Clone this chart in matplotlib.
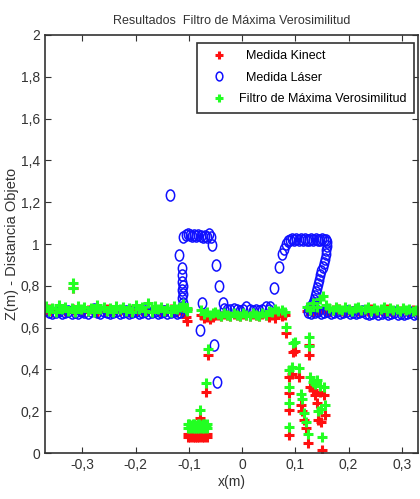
import numpy as np
import matplotlib
matplotlib.use('Agg')
import matplotlib.pyplot as plt
from matplotlib.path import Path
from matplotlib.transforms import Affine2D

plt.rcParams['font.family'] = ['Liberation Sans Narrow', 'Liberation Sans', 'DejaVu Sans']

# ---- Kinect / filter samples (same x, two z values) ----
# left floor
floorL_x = [-0.368, -0.362, -0.356, -0.350, -0.344, -0.338, -0.332, -0.326, -0.320, -0.314,
            -0.308, -0.302, -0.296, -0.290, -0.284, -0.278, -0.272, -0.266, -0.260, -0.254,
            -0.248, -0.242, -0.236, -0.230, -0.224, -0.218, -0.212, -0.206, -0.200, -0.194,
            -0.188, -0.182, -0.176, -0.170, -0.164, -0.158, -0.152, -0.146, -0.140, -0.134,
            -0.128, -0.122, -0.116, -0.110, -0.104, -0.318, -0.317]
floorL_kin = [0.68, 0.69, 0.675, 0.685, 0.68, 0.69, 0.68, 0.675, 0.685, 0.68,
              0.69, 0.68, 0.675, 0.685, 0.69, 0.68, 0.675, 0.685, 0.68, 0.69,
              0.68, 0.675, 0.685, 0.68, 0.69, 0.68, 0.675, 0.685, 0.68, 0.69,
              0.68, 0.675, 0.685, 0.68, 0.69, 0.68, 0.675, 0.685, 0.68, 0.69,
              0.68, 0.675, 0.685, 0.68, 0.69, 0.79, 0.69]
floorL_fil = [0.705, 0.68, 0.695, 0.675, 0.71, 0.69, 0.70, 0.68, 0.695, 0.675,
              0.705, 0.69, 0.70, 0.68, 0.695, 0.675, 0.71, 0.69, 0.70, 0.68,
              0.695, 0.675, 0.705, 0.69, 0.70, 0.68, 0.695, 0.675, 0.71, 0.69,
              0.70, 0.68, 0.72, 0.675, 0.705, 0.69, 0.70, 0.68, 0.695, 0.675,
              0.705, 0.69, 0.70, 0.715, 0.695, 0.815, 0.79]

# block at the bottom near x=-0.1
block_x = [-0.102, -0.099, -0.096, -0.093, -0.090, -0.087, -0.084, -0.081, -0.078, -0.075, -0.072, -0.069, -0.066,
           -0.101, -0.098, -0.095, -0.092, -0.089, -0.086, -0.083, -0.080, -0.077, -0.074, -0.071, -0.068, -0.065]
block_kin = [0.075, 0.09, 0.08, 0.075, 0.09, 0.08, 0.075, 0.09, 0.08, 0.075, 0.09, 0.08, 0.075,
             0.09, 0.075, 0.085, 0.09, 0.075, 0.085, 0.09, 0.075, 0.085, 0.09, 0.075, 0.085, 0.09]
block_fil = [0.12, 0.14, 0.13, 0.12, 0.14, 0.13, 0.12, 0.14, 0.13, 0.12, 0.14, 0.13, 0.12,
             0.14, 0.12, 0.135, 0.14, 0.12, 0.135, 0.14, 0.12, 0.135, 0.14, 0.12, 0.135, 0.14]

# scattered points left of the middle floor
gapL_x = [-0.105, -0.103, -0.079, -0.068, -0.064, -0.078, -0.072, -0.066, -0.060, -0.055, -0.050]
gapL_kin = [0.65, 0.63, 0.17, 0.29, 0.47, 0.66, 0.645, 0.65, 0.64, 0.65, 0.66]
gapL_fil = [0.69, 0.68, 0.205, 0.335, 0.50, 0.685, 0.665, 0.675, 0.66, 0.67, 0.675]

# middle floor
floorM_x = [-0.046, -0.040, -0.034, -0.028, -0.022, -0.016, -0.010, -0.004, 0.002, 0.008,
            0.014, 0.020, 0.026, 0.032, 0.038, 0.044, 0.050, 0.056, 0.062, 0.068, 0.074, 0.080]
floorM_kin = [0.66, 0.655, 0.665, 0.66, 0.655, 0.665, 0.66, 0.655, 0.665, 0.66,
              0.655, 0.665, 0.66, 0.655, 0.665, 0.66, 0.65, 0.66, 0.645, 0.665, 0.655, 0.66]
floorM_fil = [0.665, 0.655, 0.67, 0.66, 0.655, 0.67, 0.66, 0.655, 0.67, 0.66,
              0.655, 0.67, 0.66, 0.655, 0.67, 0.66, 0.68, 0.675, 0.69, 0.68, 0.685, 0.675]

# scattered points right of the middle floor
gapR_x = [0.083, 0.089, 0.089, 0.089, 0.089, 0.096, 0.100, 0.106, 0.110, 0.113, 0.116, 0.120,
          0.124, 0.126, 0.126, 0.128, 0.133, 0.137, 0.141, 0.143, 0.146, 0.148, 0.150, 0.153, 0.155, 0.093]
gapR_kin = [0.574, 0.365, 0.287, 0.206, 0.086, 0.485, 0.49, 0.365, 0.23, 0.20, 0.16, 0.118,
            0.046, 0.517, 0.47, 0.317, 0.30, 0.28, 0.24, 0.158, 0.29, 0.15, 0.014, 0.28, 0.18, 0.38]
gapR_fil = [0.604, 0.397, 0.317, 0.238, 0.127, 0.525, 0.533, 0.405, 0.285, 0.26, 0.19, 0.15,
            0.09, 0.557, 0.51, 0.365, 0.34, 0.33, 0.35, 0.20, 0.32, 0.21, 0.075, 0.317, 0.23, 0.41]

# right floor
floorR_x = [0.122, 0.128, 0.134, 0.140, 0.146, 0.152, 0.158, 0.164, 0.170, 0.176,
            0.182, 0.188, 0.194, 0.200, 0.206, 0.212, 0.218, 0.224, 0.230, 0.236,
            0.242, 0.248, 0.254, 0.260, 0.266, 0.272, 0.278, 0.284, 0.290, 0.296,
            0.302, 0.308, 0.314, 0.320, 0.326, 0.332]
floorR_kin = [0.68, 0.69, 0.675, 0.685, 0.68, 0.69, 0.68, 0.675, 0.685, 0.68,
              0.69, 0.68, 0.675, 0.685, 0.68, 0.69, 0.68, 0.675, 0.685, 0.68,
              0.69, 0.68, 0.675, 0.685, 0.68, 0.69, 0.68, 0.675, 0.685, 0.68,
              0.69, 0.68, 0.675, 0.685, 0.68, 0.675]
floorR_fil = [0.70, 0.685, 0.72, 0.70, 0.735, 0.75, 0.71, 0.695, 0.685, 0.70,
              0.69, 0.685, 0.70, 0.69, 0.68, 0.695, 0.70, 0.685, 0.69, 0.70,
              0.68, 0.695, 0.685, 0.69, 0.70, 0.68, 0.695, 0.685, 0.69, 0.68,
              0.695, 0.685, 0.69, 0.68, 0.685, 0.68]

# ---- laser samples ----
laserFloorL_x = [-0.368, -0.362, -0.356, -0.350, -0.344, -0.338, -0.332, -0.326, -0.320, -0.314,
                 -0.308, -0.302, -0.296, -0.290, -0.284, -0.278, -0.272, -0.266, -0.260, -0.254,
                 -0.248, -0.242, -0.236, -0.230, -0.224, -0.218, -0.212, -0.206, -0.200, -0.194,
                 -0.188, -0.182, -0.176, -0.170, -0.164, -0.158, -0.152, -0.146, -0.140, -0.134,
                 -0.128, -0.122, -0.116]
laserFloorL_z = [0.685, 0.675, 0.67, 0.675, 0.68, 0.67, 0.675, 0.68, 0.67, 0.675,
                 0.67, 0.68, 0.675, 0.67, 0.68, 0.69, 0.675, 0.67, 0.68, 0.675,
                 0.67, 0.675, 0.68, 0.67, 0.675, 0.68, 0.67, 0.675, 0.68, 0.67,
                 0.675, 0.68, 0.67, 0.675, 0.68, 0.67, 0.675, 0.68, 0.67, 0.675,
                 0.68, 0.67, 0.675]
laserWallL_x = [-0.112, -0.111, -0.112, -0.111, -0.112, -0.111, -0.112, -0.113, -0.118, -0.113]
laserWallL_z = [0.70, 0.72, 0.74, 0.76, 0.78, 0.80, 0.82, 0.85, 0.947, 0.883]
laserTopL_x = [-0.110, -0.106, -0.102, -0.098, -0.094, -0.090, -0.086, -0.082, -0.078, -0.074,
               -0.070, -0.066, -0.062, -0.058, -0.135]
laserTopL_z = [1.035, 1.045, 1.05, 1.045, 1.04, 1.045, 1.04, 1.045, 1.04, 1.035,
               1.04, 1.035, 1.05, 1.035, 1.235]
laserFall_x = [-0.057, -0.049, -0.043, -0.036, -0.075, -0.079, -0.053, -0.047]
laserFall_z = [0.995, 0.90, 0.80, 0.72, 0.718, 0.59, 0.517, 0.34]
laserFloorM_x = [-0.034, -0.028, -0.022, -0.016, -0.010, -0.004, 0.002, 0.008, 0.014, 0.020,
                 0.026, 0.032, 0.038, 0.044, 0.050]
laserFloorM_z = [0.69, 0.685, 0.685, 0.69, 0.685, 0.68, 0.685, 0.70, 0.685, 0.68,
                 0.685, 0.68, 0.685, 0.70, 0.685]
laserRise_x = [0.053, 0.059, 0.069, 0.075, 0.078, 0.082, 0.086]
laserRise_z = [0.70, 0.79, 0.89, 0.95, 0.975, 1.0, 1.015]
laserTopR_x = [0.090, 0.094, 0.098, 0.102, 0.106, 0.110, 0.114, 0.118, 0.122, 0.126,
               0.130, 0.134, 0.138, 0.142, 0.146, 0.150, 0.154, 0.158]
laserTopR_z = [1.02, 1.025, 1.02, 1.025, 1.02, 1.025, 1.02, 1.025, 1.02, 1.02,
               1.025, 1.02, 1.025, 1.02, 1.02, 1.025, 1.02, 1.02]
laserDiag_x = [0.160, 0.159, 0.158, 0.157, 0.155, 0.153, 0.151, 0.149, 0.147, 0.145, 0.143,
               0.141, 0.139, 0.137, 0.135, 0.133, 0.131, 0.128, 0.126]
laserDiag_z = [1.01, 0.99, 0.97, 0.95, 0.93, 0.91, 0.89, 0.87, 0.85, 0.83, 0.81,
               0.79, 0.77, 0.75, 0.73, 0.72, 0.71, 0.70, 0.69]
laserFloorR_x = [0.124, 0.130, 0.136, 0.142, 0.148, 0.154, 0.160, 0.166, 0.172, 0.178,
                 0.184, 0.190, 0.196, 0.202, 0.208, 0.214, 0.220, 0.226, 0.232, 0.238,
                 0.244, 0.250, 0.256, 0.262, 0.268, 0.274, 0.280, 0.286, 0.292, 0.298,
                 0.304, 0.310, 0.316, 0.322, 0.328, 0.334]
laserFloorR_z = [0.675, 0.67, 0.675, 0.68, 0.67, 0.675, 0.68, 0.67, 0.675, 0.68,
                 0.67, 0.675, 0.68, 0.67, 0.675, 0.67, 0.675, 0.68, 0.67, 0.665,
                 0.67, 0.675, 0.665, 0.67, 0.675, 0.665, 0.67, 0.675, 0.665, 0.67,
                 0.665, 0.67, 0.675, 0.665, 0.67, 0.665]

x_ticks = [-0.3, -0.2, -0.1, 0, 0.1, 0.2, 0.3]
x_labels = ['-0,3', '-0,2', '-0,1', '0', '0,1', '0,2', '0,3']
y_ticks = [0, 0.2, 0.4, 0.6, 0.8, 1, 1.2, 1.4, 1.6, 1.8, 2]
y_labels = ['0', '0,2', '0,4', '0,6', '0,8', '1', '1,2', '1,4', '1,6', '1,8', '2']

kin_x = floorL_x + block_x + gapL_x + floorM_x + gapR_x + floorR_x
z_kin = floorL_kin + block_kin + gapL_kin + floorM_kin + gapR_kin + floorR_kin
z_fil = floorL_fil + block_fil + gapL_fil + floorM_fil + gapR_fil + floorR_fil
las_x = laserFloorL_x + laserWallL_x + laserTopL_x + laserFall_x + laserFloorM_x + laserRise_x + laserTopR_x + laserDiag_x + laserFloorR_x
z_las = laserFloorL_z + laserWallL_z + laserTopL_z + laserFall_z + laserFloorM_z + laserRise_z + laserTopR_z + laserDiag_z + laserFloorR_z

# slightly tall circle, like in the original picture
oval = Path.unit_circle().transformed(Affine2D().scale(0.75, 1.0))

fig = plt.figure(figsize=(4.2, 4.99), dpi=100)
ax = fig.add_axes([0.107, 0.092, 0.888, 0.838])

ax.plot(kin_x, z_kin, '+', color='#ff1010', markersize=7, markeredgewidth=2.2, label='  Medida Kinect')
ax.plot(las_x, z_las, linestyle='none', marker=oval, color='#1010ff', markerfacecolor='none',
        markersize=8, markeredgewidth=1.1, label='  Medida Láser')
ax.plot(kin_x, z_fil, '+', color='#22ff22', markersize=7, markeredgewidth=2.2, label='Filtro de Máxima Verosimilitud')

ax.set_xlim(-0.37, 0.33)
ax.set_ylim(0, 2)
ax.set_xticks(x_ticks)
ax.set_xticklabels(x_labels)
ax.set_yticks(y_ticks)
ax.set_yticklabels(y_labels)
ax.tick_params(direction='in', top=True, right=True, labelsize=10, length=4, colors='#333333')
for s in ax.spines.values():
    s.set_color('#333333')
    s.set_linewidth(1.2)

ax.set_xlabel('x(m)', fontsize=10, labelpad=2, color='#333333')
ax.set_ylabel('Z(m) - Distancia Objeto', fontsize=10.5, color='#333333')
ax.yaxis.set_label_coords(-0.07, 0.5)
ax.set_title('Resultados  Filtro de Máxima Verosimilitud', fontsize=9, pad=8, color='#333333')

leg = ax.legend(loc='upper right', bbox_to_anchor=(0.99, 0.981), fontsize=9, fancybox=False,
                edgecolor='#333333', borderaxespad=0, borderpad=0.6, handlelength=2.4,
                handletextpad=0.4, labelspacing=0.75, framealpha=1, markerscale=0.8)
leg.get_frame().set_linewidth(1.2)

fig.savefig('out.png', dpi=100)
